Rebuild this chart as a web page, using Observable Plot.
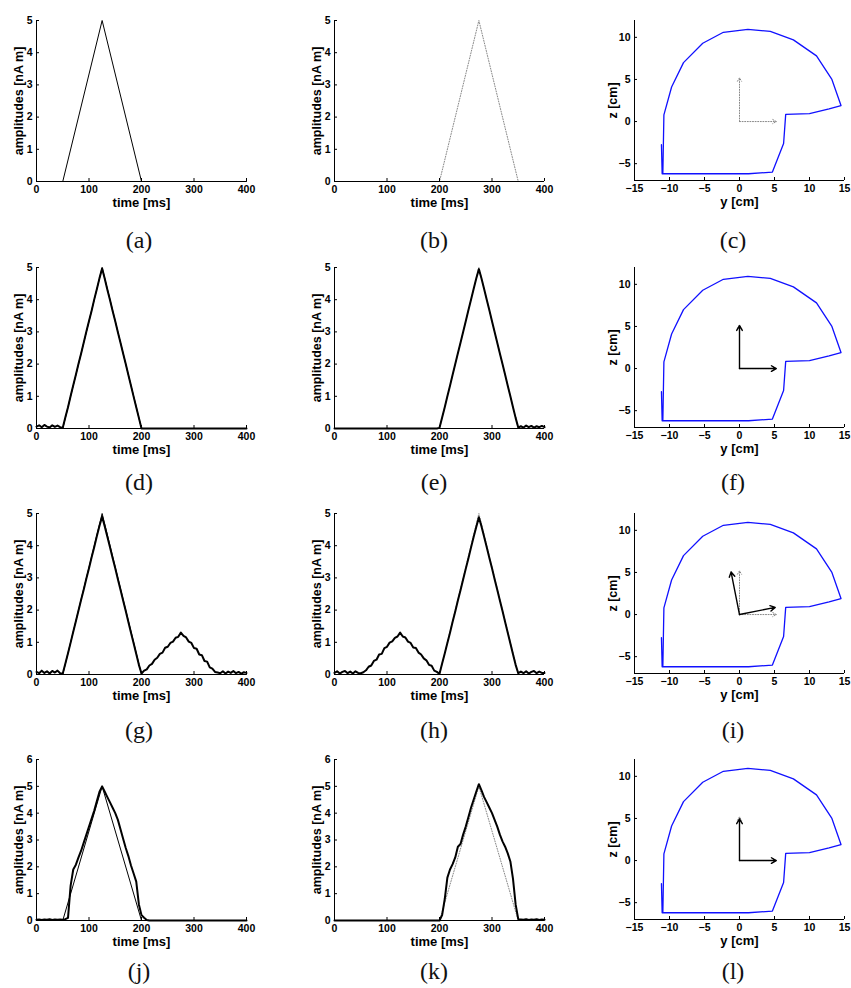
<!DOCTYPE html>
<html><head><meta charset="utf-8">
<script src="https://cdn.jsdelivr.net/npm/d3@7"></script>
<script src="https://cdn.jsdelivr.net/npm/@observablehq/plot@0.6"></script>
<style>
body{margin:0;background:#fff;}
#fig{position:relative;width:851px;height:988px;overflow:hidden;background:#fff}
.panel{position:absolute}
.cap{position:absolute;font-family:"Liberation Serif","DejaVu Serif",serif;font-size:24px;transform:translate(-50%,-50%);line-height:1;color:#111}
</style></head><body><div id="fig"></div><script>
// ---------- data ----------
const timeTicks = [0, 100, 200, 300, 400];
const ampTicks5 = [0, 1, 2, 3, 4, 5];
const ampTicks6 = [0, 1, 2, 3, 4, 5, 6];
const yTicks = [-15, -10, -5, 0, 5, 10, 15];
const zTicks = [-5, 0, 5, 10];

// true sources (vertices of triangular time courses)
const src1T = [0, 50, 125, 200, 400];
const src1A = [0, 0, 5, 0, 0];
const src2T = [0, 200, 275, 350, 400];
const src2A = [0, 0, 5, 0, 0];

// estimated time courses sampled every 5 ms (0..400)
const estD = [0.06,0.10,0.04,0.11,0.06,0.03,0.10,0.05,0.09,0.04,
  0.02,0.35,0.66,1.01,1.34,1.67,2.01,2.33,2.67,3.01,
  3.34,3.66,4.01,4.33,4.67,4.97,4.65,4.31,3.99,3.65,
  3.33,2.99,2.66,2.33,2.00,1.66,1.33,0.99,0.66,0.33,
  0,0,0,0,0,0,0,0,0,0, 0,0,0,0,0,0,0,0,0,0,
  0,0,0,0,0,0,0,0,0,0, 0,0,0,0,0,0,0,0,0,0, 0];
const estE = [0,0,0,0,0,0,0,0,0,0, 0,0,0,0,0,0,0,0,0,0,
  0,0,0,0,0,0,0,0,0,0, 0,0,0,0,0,0,0,0,0,0,
  0.02,0.34,0.66,1.00,1.33,1.67,2.00,2.34,2.66,3.00,
  3.33,3.67,4.00,4.33,4.66,4.95,4.66,4.33,4.00,3.67,
  3.33,3.00,2.66,2.33,2.00,1.67,1.33,1.00,0.66,0.33,
  0.03,0.07,0.03,0.09,0.04,0.08,0.03,0.07,0.04,0.08, 0.04];
const estG = [0.08,0.04,0.12,0.05,0.10,0.03,0.11,0.06,0.12,0.04,
  0.03,0.34,0.66,0.99,1.33,1.65,1.99,2.32,2.64,2.98,
  3.30,3.64,3.96,4.30,4.62,4.90,4.60,4.28,3.95,3.62,
  3.30,2.96,2.63,2.30,1.97,1.63,1.30,0.97,0.64,0.30,
  0.03,0.12,0.16,0.28,0.33,0.46,0.52,0.64,0.68,0.83,
  0.86,0.98,1.02,1.14,1.17,1.30,1.20,1.15,1.02,0.98,
  0.82,0.80,0.62,0.60,0.42,0.40,0.22,0.18,0.08,0.06,
  0.04,0.10,0.03,0.09,0.05,0.11,0.04,0.08,0.03,0.07, 0.05];
const estH = [0.05,0.10,0.03,0.08,0.11,0.04,0.09,0.03,0.10,0.05,
  0.04,0.07,0.13,0.24,0.28,0.42,0.46,0.62,0.64,0.82,
  0.86,0.99,1.03,1.14,1.18,1.30,1.18,1.15,1.02,0.98,
  0.84,0.82,0.68,0.62,0.50,0.44,0.30,0.27,0.12,0.08,
  0.02,0.34,0.65,0.98,1.30,1.64,1.96,2.30,2.62,2.95,
  3.28,3.60,3.94,4.27,4.58,4.88,4.60,4.28,3.95,3.62,
  3.30,2.96,2.63,2.30,1.97,1.63,1.30,0.96,0.63,0.30,
  0.04,0.09,0.04,0.10,0.03,0.08,0.11,0.04,0.09,0.05, 0.05];
const estJ = [0.03,0.04,0.02,0.04,0.03,0.05,0.02,0.04,0.03,0.04,
  0.03,0.05,0.10,1.30,1.90,2.08,2.35,2.60,2.90,3.20,
  3.50,3.80,4.10,4.45,4.80,5.00,4.80,4.60,4.40,4.20,
  4.00,3.75,3.40,3.05,2.70,2.40,2.05,1.75,1.45,0.60,
  0.20,0.10,0.02,0,0,0,0,0,0,0, 0,0,0,0,0,0,0,0,0,0,
  0,0,0,0,0,0,0,0,0,0, 0,0,0,0,0,0,0,0,0,0, 0];
const estK = [0,0,0,0,0,0,0,0,0,0, 0,0,0,0,0,0,0,0,0,0,
  0,0,0,0,0,0,0,0,0,0, 0,0,0,0,0,0,0,0,0,0,
  0.00,0.20,0.80,1.60,1.90,2.10,2.35,2.75,2.85,3.20,
  3.50,3.85,4.20,4.50,4.80,5.08,4.85,4.60,4.40,4.20,
  4.00,3.75,3.50,3.20,2.95,2.75,2.50,2.20,1.55,0.60,
  0.05,0.04,0.03,0.05,0.02,0.04,0.03,0.05,0.02,0.04, 0.03];

// head contour (y, z in cm)
const headY = [-11.15,-11.05,1.3,4.7,6.3,6.6,10.0,12.8,14.5,13.2,11.0,7.7,4.4,1.2,-2.3,-5.25,-8.0,-9.7,-10.8,-10.95];
const headZ = [-2.75,-6.2,-6.2,-6.0,-2.6,0.85,0.95,1.5,1.9,5.0,7.8,9.7,10.7,10.95,10.6,9.3,7.0,4.1,0.8,-6.2];

// dipole orientation arrows (tips, from origin)
const trueTipY = [0, 5.25], trueTipZ = [5.2, 0];
const estTipYf = [0, 5.25], estTipZf = [5.1, 0];
const estTipYi = [-1.2, 5.1], estTipZi = [5.05, 0.85];
const estTipYl = [0, 5.25], estTipZl = [4.95, 0];

const captions = ["(a)","(b)","(c)","(d)","(e)","(f)","(g)","(h)","(i)","(j)","(k)","(l)"];

// ---------- layout ----------
const tGrid = d3.range(0, 401, 5);
const HF = '"Liberation Sans Narrow","Liberation Sans",Arial,sans-serif';
const VF = '"Liberation Sans",Arial,sans-serif';
const rowTop = [0, 247, 493, 739];
const capY = [240, 482, 730, 971];
const colLeft = [0, 298, 598];
const capX = [139, 434, 733];
const fig = document.getElementById("fig");

const toPts = (T, A) => T.map((t, i) => ({t, v: A[i]}));
const estPts = (E) => E.map((v, i) => ({t: tGrid[i], v}));

const tickOpts = {tickSize: -3, tickPadding: 7, label: null, fontSize: 10.5, fontWeight: "bold", fontFamily: HF, fill: "#000"};

function labelMarks(xl, yl, ydx) {
  return [
    Plot.text([xl], {text: d => d, frameAnchor: "bottom", dy: 21, lineAnchor: "middle", textAnchor: "middle", fontSize: 13, fontWeight: "bold", fontFamily: HF, fill: "#000"}),
    Plot.text([yl], {text: d => d, frameAnchor: "left", dx: ydx, rotate: -90, lineAnchor: "middle", textAnchor: "middle", fontSize: 12.5, fontWeight: "bold", fontFamily: VF, fill: "#000"})
  ];
}

function timePanel(col, row, {ymax, solid, dotted, est}) {
  const marks = [];
  if (dotted) marks.push(Plot.line(toPts(src2T, src2A), {x: "t", y: "v", stroke: "#888", strokeWidth: 1, strokeDasharray: "1,1.6"}));
  if (solid) marks.push(Plot.line(toPts(src1T, src1A), {x: "t", y: "v", stroke: "#000", strokeWidth: 1}));
  marks.push(
    Plot.ruleX([0], {stroke: "#000", strokeWidth: 1}),
    Plot.ruleY([0], {stroke: "#000", strokeWidth: 1}),
    Plot.axisX(timeTicks, tickOpts),
    Plot.axisY(ymax === 6 ? ampTicks6 : ampTicks5, tickOpts),
    ...labelMarks("time [ms]", "amplitudes [nA m]", -18)
  );
  if (est) marks.push(Plot.line(estPts(est), {x: "t", y: "v", stroke: "#000", strokeWidth: 2}));
  const svg = Plot.plot({
    width: 270, height: 212,
    marginLeft: 36, marginRight: 24, marginTop: 20, marginBottom: 31,
    x: {domain: [0, 400]},
    y: {domain: [0, ymax]},
    style: {fontFamily: HF, fontWeight: "bold", fontSize: "10px", color: "#000", background: "transparent", overflow: "visible"},
    marks
  });
  place(svg, col, row);
}

function headPanel(col, row, tipsEst) {
  const origin = (Y, Z) => Y.map((y, i) => ({x1: 0, y1: 0, x2: y, y2: Z[i]}));
  const marks = [
    Plot.ruleX([-15], {stroke: "#000", strokeWidth: 1}),
    Plot.ruleY([-7], {stroke: "#000", strokeWidth: 1}),
    Plot.axisX(yTicks, tickOpts),
    Plot.axisY(zTicks, tickOpts),
    ...labelMarks("y [cm]", "z [cm]", -22),
    Plot.line(headY.map((y, i) => ({py: y, pz: headZ[i]})), {x: "py", y: "pz", stroke: "#1010ff", strokeWidth: 1.3}),
    Plot.arrow(origin(trueTipY, trueTipZ), {x1: "x1", y1: "y1", x2: "x2", y2: "y2", stroke: "#888", strokeWidth: 1, strokeDasharray: "1,1.6", headLength: 6})
  ];
  if (tipsEst) marks.push(Plot.arrow(origin(tipsEst[0], tipsEst[1]), {x1: "x1", y1: "y1", x2: "x2", y2: "y2", stroke: "#000", strokeWidth: 1.4, headLength: 6}));
  const svg = Plot.plot({
    width: 253, height: 212,
    marginLeft: 36, marginRight: 7, marginTop: 20, marginBottom: 32,
    x: {domain: [-15, 15]},
    y: {domain: [-7, 12]},
    style: {fontFamily: HF, fontWeight: "bold", fontSize: "10px", color: "#000", background: "transparent", overflow: "visible"},
    marks
  });
  place(svg, col, row);
}

function place(svg, col, row) {
  svg.classList.add("panel");
  svg.style.left = colLeft[col] + "px";
  svg.style.top = rowTop[row] + "px";
  fig.appendChild(svg);
  const c = document.createElement("div");
  c.className = "cap";
  c.textContent = captions[row * 3 + col];
  c.style.left = capX[col] + "px";
  c.style.top = capY[row] + "px";
  fig.appendChild(c);
}

timePanel(0, 0, {ymax: 5, solid: true});
timePanel(1, 0, {ymax: 5, dotted: true});
headPanel(2, 0, null);
timePanel(0, 1, {ymax: 5, solid: true, est: estD});
timePanel(1, 1, {ymax: 5, dotted: true, est: estE});
headPanel(2, 1, [estTipYf, estTipZf]);
timePanel(0, 2, {ymax: 5, solid: true, est: estG});
timePanel(1, 2, {ymax: 5, dotted: true, est: estH});
headPanel(2, 2, [estTipYi, estTipZi]);
timePanel(0, 3, {ymax: 6, solid: true, est: estJ});
timePanel(1, 3, {ymax: 6, dotted: true, est: estK});
headPanel(2, 3, [estTipYl, estTipZl]);
</script></body></html>
